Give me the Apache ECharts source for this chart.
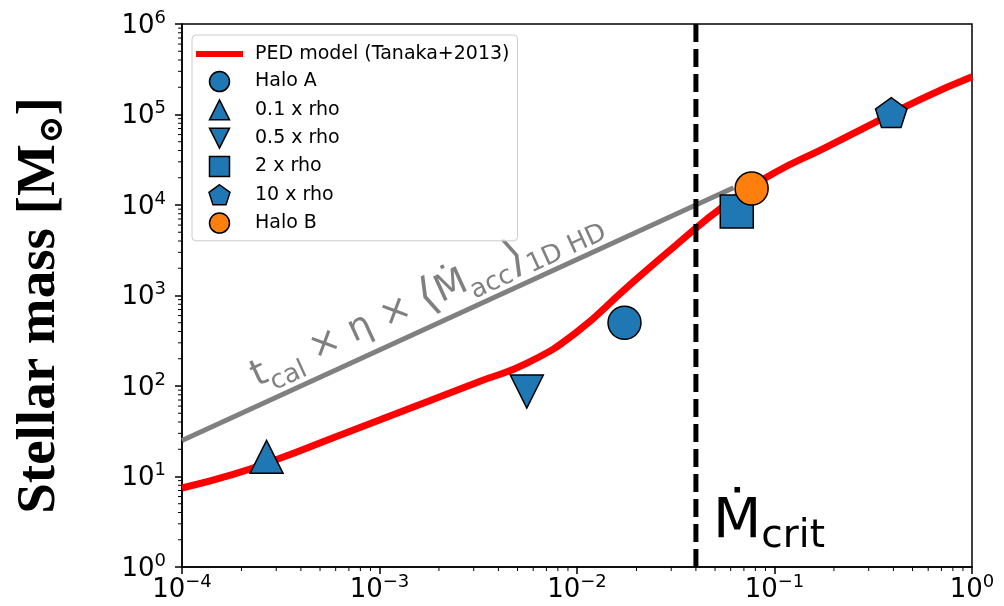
<!DOCTYPE html>
<html><head><meta charset="utf-8">
<script src="https://cdn.jsdelivr.net/npm/echarts@6/dist/echarts.min.js"></script>
<style>html,body{margin:0;padding:0;background:#fff}#c{width:1004px;height:606px}</style>
</head><body><div id="c"></div>
<script>
// ---- data ----
const xMin = 1e-4, xMax = 1, yMin = 1, yMax = 1e6;
// PED model curve, every quarter decade
const pedX = [1e-4, 1.78e-4, 3.16e-4, 5.62e-4, 1e-3, 1.78e-3, 3.16e-3, 5.62e-3, 1e-2, 1.78e-2, 3.16e-2, 5.62e-2, 0.1, 0.178, 0.316, 0.562, 1];
const pedY = [7.47, 10.4, 16.0, 26.0, 42.2, 68.4, 111, 180, 396, 1216, 3584, 9970, 22700, 42300, 80000, 151000, 261000];
const grayX = [1e-4, 0.062];
const grayY = [25, 15500];
const mcrit = 0.04;
const haloA = [0.0174, 500];
const rho01 = [2.68e-4, 16.5];
const rho05 = [5.57e-3, 87];
const rho2 = [0.0644, 8480];
const rho10 = [0.39, 101000];
const haloB = [0.0766, 15200];
const legendNames = ['PED model (Tanaka+2013)', 'Halo A', '0.1 x rho', '0.5 x rho', '2 x rho', '10 x rho', 'Halo B'];
const minorMult = [2, 3, 4, 5, 6, 7, 8, 9];

function minorVals(lo, hi) {
  const out = [];
  for (let e = lo; e < hi; e++) for (const m of minorMult) out.push(m * Math.pow(10, e));
  return out;
}
const xMinor = minorVals(-4, 0);
const yMinor = minorVals(0, 6);

function powLabel(v) {
  const e = Math.round(Math.log10(v));
  return '{b|10}{s|' + (e < 0 ? '\u2212' + (-e) : e) + '}';
}
const tickRich = {
  b: {fontFamily: 'DejaVu Sans', fontSize: 26, color: '#000', verticalAlign: 'bottom', lineHeight: 30},
  s: {fontFamily: 'DejaVu Sans', fontSize: 18, color: '#000', verticalAlign: 'top', lineHeight: 18}
};

const BLUE = '#1f77b4', ORANGE = '#ff7f0e';
const markerStyle = (c) => ({color: c, borderColor: '#000', borderWidth: 1.5, opacity: 1});
const upTri = 'path://M1,0L2,2L0,2Z';
const downTri = 'path://M0,0L2,0L1,2Z';
const square = 'path://M0,0H2V2H0Z';
const pentagon = 'path://M95.1,0L190.2,69.1L153.9,180.9L36.3,180.9L0,69.1Z';

const chart = echarts.init(document.getElementById('c'));
chart.setOption({
  animation: false,
  backgroundColor: '#fff',
  grid: {left: 182, right: 32, top: 24, bottom: 39, show: true, borderColor: '#000', borderWidth: 1.5,
         containLabel: false, outerBoundsMode: 'none'},
  xAxis: {
    type: 'log', logBase: 10, min: xMin, max: xMax, splitNumber: 4,
    axisLine: {show: true, lineStyle: {color: '#000', width: 1.5}},
    axisTick: {show: true, length: 7, inside: false, lineStyle: {color: '#000', width: 1.5}},
    axisLabel: {margin: 6, formatter: powLabel, rich: tickRich},
    splitLine: {show: false}, minorTick: {show: false}
  },
  yAxis: {
    type: 'log', logBase: 10, min: yMin, max: yMax, splitNumber: 6,
    axisLine: {show: true, lineStyle: {color: '#000', width: 1.5}},
    axisTick: {show: true, length: 7, inside: false, lineStyle: {color: '#000', width: 1.5}},
    axisLabel: {margin: 16, formatter: powLabel, rich: tickRich},
    splitLine: {show: false},
    name: '{t|Stellar mass [M}{o|\u2299}{t|]}', nameLocation: 'middle', nameGap: 112, nameRotate: 90,
    nameTextStyle: {padding: [0, 20, 0, 0], rich: {
      t: {fontFamily: 'Liberation Serif', fontWeight: 'bold', fontSize: 55, color: '#000', verticalAlign: 'top', lineHeight: 58},
      o: {fontFamily: 'DejaVu Serif', fontWeight: 'bold', fontSize: 34, color: '#000', verticalAlign: 'bottom', lineHeight: 34}
    }}
  },
  legend: {
    orient: 'vertical', left: 192, top: 35, padding: [9, 8, 7, 4],
    itemWidth: 47, itemHeight: 20, itemGap: 6.8,
    backgroundColor: 'rgba(255,255,255,0.8)', borderColor: '#cccccc', borderWidth: 1, borderRadius: 4,
    textStyle: {fontFamily: 'DejaVu Sans', fontSize: 19, color: '#000', lineHeight: 20, padding: [0, 0, 0, 7]},
    itemStyle: {borderColor: '#000', borderWidth: 1.5},
    selectedMode: false,
    data: [
      {name: legendNames[0], icon: 'path://M0,0H47V6H0Z', itemStyle: {color: '#ff0000', borderWidth: 0}},
      {name: legendNames[1], icon: 'circle'},
      {name: legendNames[2], icon: upTri},
      {name: legendNames[3], icon: downTri},
      {name: legendNames[4], icon: square},
      {name: legendNames[5], icon: pentagon},
      {name: legendNames[6], icon: 'circle'}
    ]
  },
  series: [
    {name: 'tcal', type: 'line', data: grayX.map((x, i) => [x, grayY[i]]), symbol: 'none', silent: true,
     lineStyle: {color: '#808080', width: 5}, itemStyle: {color: '#808080'}, z: 2},
    {name: legendNames[0], type: 'line', smooth: 0.5, data: pedX.map((x, i) => [x, pedY[i]]), symbol: 'none',
     lineStyle: {color: '#ff0000', width: 7}, itemStyle: {color: '#ff0000'}, z: 3},
    {name: 'Mcrit', type: 'line', data: [[mcrit, yMin], [mcrit, yMax]], symbol: 'none', silent: true,
     lineStyle: {color: '#000', width: 5, type: [18, 7]}, itemStyle: {color: '#000'}, z: 4},
    {name: legendNames[1], type: 'scatter', data: [haloA], symbol: 'circle', symbolSize: 33, itemStyle: markerStyle(BLUE), z: 5},
    {name: legendNames[2], type: 'scatter', data: [rho01], symbol: upTri, symbolSize: 33, itemStyle: markerStyle(BLUE), z: 5},
    {name: legendNames[3], type: 'scatter', data: [rho05], symbol: downTri, symbolSize: 33, itemStyle: markerStyle(BLUE), z: 5},
    {name: legendNames[4], type: 'scatter', data: [rho2], symbol: square, symbolSize: 33, itemStyle: markerStyle(BLUE), z: 5},
    {name: legendNames[5], type: 'scatter', data: [rho10], symbol: pentagon, symbolSize: [31.4, 29.8], symbolOffset: [0, -1.6], itemStyle: markerStyle(BLUE), z: 5},
    {name: legendNames[6], type: 'scatter', data: [haloB], symbol: 'circle', symbolSize: 33, itemStyle: markerStyle(ORANGE), z: 6},
    {name: 'minor', type: 'custom', coordinateSystem: 'cartesian2d', silent: true, clip: false, z: 10,
     data: xMinor.map(v => [v, yMin, 0]).concat(yMinor.map(v => [xMin, v, 1])),
     encode: {x: 0, y: 1},
     renderItem: function (params, api) {
       const p = api.coord([api.value(0), api.value(1)]);
       const isX = api.value(2) === 0;
       return {type: 'line',
         shape: isX ? {x1: p[0], y1: p[1], x2: p[0], y2: p[1] + 4} : {x1: p[0] - 4, y1: p[1], x2: p[0], y2: p[1]},
         style: {stroke: '#000', lineWidth: 1}};
     }}
  ],
  graphic: [
    {type: 'text', x: 264, y: 402, rotation: 24.6 * Math.PI / 180, silent: true,
     style: {text: '{m|t}{s|cal}{m| \u00d7 \u03b7 \u00d7 }{k|\u27e8}{m|\u1e40}{s|acc}{k|\u27e9}{s|1D HD}',
       align: 'left', verticalAlign: 'bottom',
       rich: {
         m: {fontFamily: 'DejaVu Sans', fontSize: 37, fill: '#808080', verticalAlign: 'bottom', padding: [0, 0, 8, 0]},
         k: {fontFamily: 'DejaVu Sans', fontSize: 46, fill: '#808080', verticalAlign: 'bottom', padding: [0, 0, 3, 0]},
         s: {fontFamily: 'DejaVu Sans', fontSize: 26, fill: '#808080', verticalAlign: 'bottom'}
       }}},
    {type: 'text', x: 713, y: 556, silent: true,
     style: {text: '{m|\u1e40}{s|crit}', align: 'left', verticalAlign: 'bottom',
       rich: {
         m: {fontFamily: 'DejaVu Sans', fontSize: 56, fill: '#000', verticalAlign: 'bottom', padding: [0, 0, 6, 0]},
         s: {fontFamily: 'DejaVu Sans', fontSize: 39, fill: '#000', verticalAlign: 'bottom'}
       }}}
  ]
});
</script>
</body></html>
